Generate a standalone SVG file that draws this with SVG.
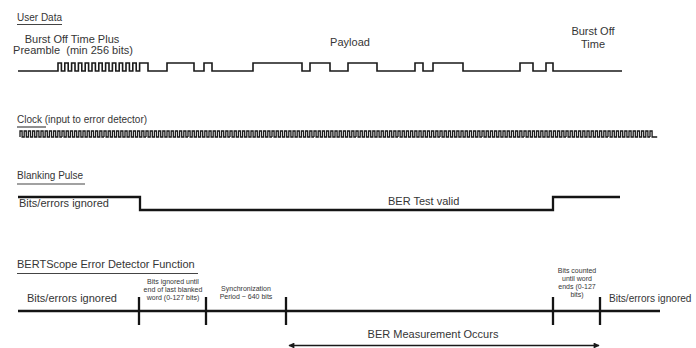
<svg xmlns="http://www.w3.org/2000/svg" xmlns:xlink="http://www.w3.org/1999/xlink" width="696" height="348" viewBox="0 0 696 348">
<style>
text{font-family:"Liberation Sans",Arial,sans-serif;fill:#353535;white-space:pre}
.t{font-size:10px}
.t11{font-size:11px}
.s{font-size:7px;text-anchor:middle}
.c{text-anchor:middle}
.ul{stroke:#444;stroke-width:1.2;fill:none}
.w{stroke:#1a1a1a;stroke-width:1.6;fill:none}
.clk{stroke:#1a1a1a;stroke-width:1.3;fill:none}
.thick{stroke:#141414;stroke-width:2.3;fill:none}
.arr{stroke:#1a1a1a;stroke-width:1.3;fill:none}
</style>
<defs>
<marker id="ah" viewBox="0 0 10 10" refX="9" refY="5" markerWidth="8" markerHeight="6" markerUnits="userSpaceOnUse" orient="auto-start-reverse">
<path d="M0,0 L10,5 L0,10 z" fill="#1a1a1a"/>
</marker>
<path id="c10" class="clk" d="M0,137 v-6h2.1v6h2.1 v-6h2.1v6h2.1 v-6h2.1v6h2.1 v-6h2.1v6h2.1 v-6h2.1v6h2.1 v-6h2.1v6h2.1 v-6h2.1v6h2.1 v-6h2.1v6h2.1 v-6h2.1v6h2.1 v-6h2.1v6h2.1"/>
<g id="c50">
<use xlink:href="#c10" href="#c10"/>
<use xlink:href="#c10" href="#c10" x="42"/>
<use xlink:href="#c10" href="#c10" x="84"/>
<use xlink:href="#c10" href="#c10" x="126"/>
<use xlink:href="#c10" href="#c10" x="168"/>
</g>
</defs>
<rect width="696" height="348" fill="#ffffff"/>

<g id="user-data">
<text class="t" x="17" y="21">User Data</text>
<path class="ul" d="M17,24.5 H62"/>
<text class="t11 c" x="72" y="43">Burst Off Time Plus</text>
<text class="t11 c" x="73" y="54">Preamble  (min 256 bits)</text>
<text class="t11 c" x="350" y="46">Payload</text>
<text class="t11 c" x="593" y="35">Burst Off</text>
<text class="t11 c" x="593" y="48">Time</text>
<path class="w" d="M18,71 H58 V63h3.4V71h3.4 V63h3.4V71h3.4 V63h3.4V71h3.4 V63h3.4V71h3.4 V63h3.4V71h3.4 V63h3.4V71h3.4 V63h3.4V71h3.4 V63h3.4V71h3.4 V63h3.4V71h3.4 V63h3.4V71h3.4 V63h3.4V71h3.4 V63h3.4V71h3.4 V63 H148 V71 H167 V63 H194 V71 H204 V63 H212 V71 H253 V63 H302 V71 H310 V63 H330 V71 H348 V63 H377 V71 H415 V63 H423 V71 H433 V63 H463 V71 H520 V63 H533 V71 H546 V63 H553 V71 H622"/>
</g>

<g id="clock">
<text class="t" x="17" y="123">Clock (input to error detector)</text>
<path class="ul" d="M17,127 H46"/>
<use xlink:href="#c50" href="#c50" x="20"/>
<use xlink:href="#c50" href="#c50" x="230"/>
<use xlink:href="#c50" href="#c50" x="440"/>
<path class="clk" d="M650,137 v-6h2.1v6h2.1 h3"/>
</g>

<g id="blanking-pulse">
<text class="t" x="17" y="179">Blanking Pulse</text>
<path class="ul" d="M17,184 H85"/>
<path class="thick" d="M18,197 H140 V210 H553 V197 H620"/>
<text class="t11" x="19" y="207">Bits/errors ignored</text>
<text class="t11" x="388" y="205">BER Test valid</text>
</g>

<g id="error-detector">
<text class="t11" x="17" y="268">BERTScope Error Detector Function</text>
<path class="ul" d="M17,273.5 H198"/>
<text class="t11" x="27" y="302">Bits/errors ignored</text>
<text x="609" y="302" style="font-size:10.1px">Bits/errors ignored</text>
<text class="s" x="173" y="284">Bits ignored until</text>
<text class="s" x="173" y="292">end of last blanked</text>
<text class="s" x="173" y="300">word (0-127 bits)</text>
<text class="s" x="246" y="291">Synchronization</text>
<text class="s" x="246" y="299">Period ~ 640 bits</text>
<text class="s" x="577" y="273">Bits counted</text>
<text class="s" x="577" y="281">until word</text>
<text class="s" x="577" y="289">ends (0-127</text>
<text class="s" x="577" y="297">bits)</text>
<text class="t11 c" x="433" y="338">BER Measurement Occurs</text>
</g>

<g id="connectors">
<path class="thick" d="M18,311 H660"/>
<path class="thick" d="M139,297 V325 M206,297 V325 M286,297 V325 M553,297 V325 M600,297 V325"/>
<path class="arr" d="M289,345.5 H599" marker-start="url(#ah)" marker-end="url(#ah)"/>
</g>
</svg>
